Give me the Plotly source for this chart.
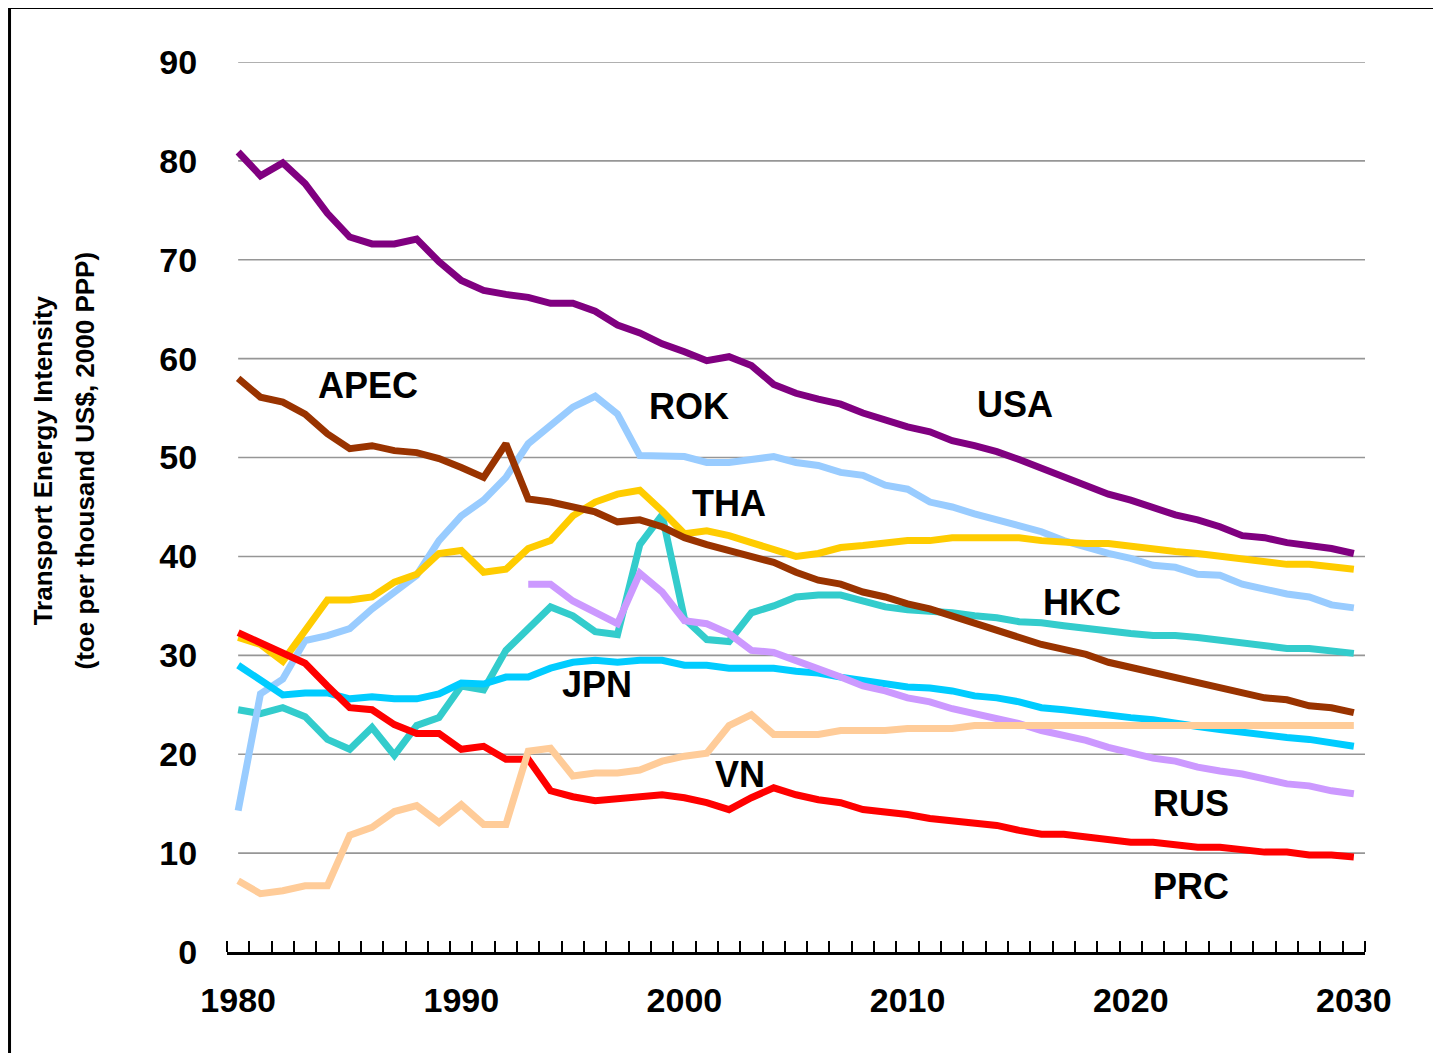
import plotly.graph_objects as go

years = list(range(1980, 2031))

usa = [80.9, 78.5, 79.8, 77.7, 74.7, 72.3, 71.6, 71.6, 72.1, 69.8,
       67.9, 66.9, 66.5, 66.2, 65.6, 65.6, 64.8, 63.4, 62.6, 61.5,
       60.7, 59.8, 60.2, 59.3, 57.4, 56.5, 55.9, 55.4, 54.5, 53.8,
       53.1, 52.6, 51.7, 51.2, 50.6, 49.8, 48.9, 48.0, 47.1, 46.3,
       45.7, 44.9, 44.2, 43.7, 43.0, 42.1, 41.9, 41.4, 41.1, 40.8, 40.3]

apec = [58.0, 56.1, 55.6, 54.4, 52.4, 50.9, 51.2, 50.7, 50.5, 49.9,
        49.0, 48.0, 51.4, 45.8, 45.5, 45.0, 44.5, 43.5, 43.7, 43.0,
        41.9, 41.2, 40.6, 40.0, 39.4, 38.4, 37.6, 37.2, 36.4, 35.9,
        35.2, 34.7, 34.0, 33.2, 32.6, 31.8, 31.1, 30.6, 30.1, 29.3,
        28.8, 28.3, 27.8, 27.3, 26.8, 26.3, 25.7, 25.5, 24.9, 24.7, 24.2]

rok = [14.3, 26.1, 27.6, 31.5, 32.0, 32.7, 34.7, 36.5, 38.1, 41.6,
       44.1, 45.7, 48.0, 51.4, 53.3, 55.1, 56.2, 54.4, 50.2, 50.1,
       50.1, 49.5, 49.5, 49.8, 50.1, 49.5, 49.2, 48.5, 48.2, 47.2,
       46.8, 45.5, 45.0, 44.3, 43.7, 43.0, 42.5, 41.6, 40.9, 40.3,
       39.8, 39.1, 38.9, 38.2, 38.1, 37.2, 36.7, 36.2, 35.9, 35.1, 34.8]

tha = [31.8, 31.1, 29.4, 32.5, 35.6, 35.6, 35.9, 37.4, 38.2, 40.3,
       40.6, 38.4, 38.7, 40.8, 41.6, 44.1, 45.5, 46.3, 46.7, 44.6,
       42.3, 42.6, 42.1, 41.4, 40.7, 40.0, 40.3, 40.9, 41.1, 41.4,
       41.6, 41.6, 41.9, 41.9, 41.9, 41.9, 41.6, 41.4, 41.3, 41.3,
       41.0, 40.7, 40.5, 40.3, 40.0, 39.7, 39.4, 39.2, 39.2, 38.9, 38.7]

hkc = [24.5, 24.1, 24.7, 23.8, 21.5, 20.5, 22.7, 19.9, 22.9, 23.7,
       26.9, 26.5, 30.5, 32.6, 34.9, 34.0, 32.4, 32.1, 41.2, 44.2,
       33.7, 31.6, 31.4, 34.3, 35.0, 35.9, 36.1, 36.1, 35.5, 34.9,
       34.6, 34.5, 34.3, 34.0, 33.8, 33.4, 33.3, 33.0, 32.7, 32.4,
       32.2, 32.0, 32.0, 31.8, 31.5, 31.2, 31.0, 30.7, 30.7, 30.5, 30.2]

jpn = [29.0, 27.4, 26.0, 26.2, 26.2, 25.6, 25.8, 25.6, 25.6, 26.1,
       27.2, 27.1, 27.8, 27.8, 28.7, 29.3, 29.5, 29.3, 29.5, 29.5,
       29.0, 29.0, 28.7, 28.7, 28.7, 28.4, 28.2, 27.8, 27.5, 27.1,
       26.8, 26.7, 26.4, 25.9, 25.7, 25.3, 24.7, 24.5, 24.2, 23.9,
       23.7, 23.5, 23.1, 22.8, 22.5, 22.2, 22.0, 21.7, 21.5, 21.2, 20.8]

prc = [32.3, 31.3, 30.2, 29.2, 26.9, 24.7, 24.5, 23.0, 22.1, 22.1,
       20.5, 20.8, 19.5, 19.5, 16.3, 15.7, 15.3, 15.5, 15.8, 15.9,
       15.6, 15.1, 14.4, 15.6, 16.6, 15.9, 15.4, 15.1, 14.4, 14.2,
       13.9, 13.5, 13.3, 13.0, 12.8, 12.3, 11.9, 11.9, 11.6, 11.4,
       11.1, 11.1, 10.8, 10.6, 10.6, 10.3, 10.1, 10.1, 9.8, 9.8, 9.6]

vn = [7.2, 5.9, 6.2, 6.7, 6.7, 11.8, 12.6, 14.2, 14.8, 13.1,
      14.9, 12.9, 12.9, 20.3, 20.6, 17.8, 18.1, 18.1, 18.4, 19.3,
      19.8, 20.1, 22.9, 24.0, 22.0, 22.0, 22.0, 22.4, 22.4, 22.4,
      22.6, 22.6, 22.6, 22.9, 22.9, 22.9, 22.9, 22.9, 22.9, 22.9,
      22.9, 22.9, 22.9, 22.9, 22.9, 22.9, 22.9, 22.9, 22.9, 22.9, 22.9]

rus = [None] * 13 + [
    37.2, 37.2, 35.5, 34.4, 33.2, 38.3, 36.4,
    33.5, 33.2, 32.2, 30.5, 30.3, 29.5, 28.6, 27.8, 26.9, 26.4,
    25.7, 25.3, 24.6, 24.1, 23.6, 23.1, 22.4, 21.9, 21.4, 20.7,
    20.1, 19.6, 19.3, 18.7, 18.3, 18.0, 17.5, 17.0, 16.8, 16.3, 16.0]

# drawing order: bottom -> top
series = [
    ("HKC", hkc, "#33CCCC"),
    ("ROK", rok, "#99CCFF"),
    ("JPN", jpn, "#00CCFF"),
    ("THA", tha, "#FFCC00"),
    ("PRC", prc, "#FF0000"),
    ("RUS", rus, "#CC99FF"),
    ("VN", vn, "#FFCC99"),
    ("APEC", apec, "#993300"),
    ("USA", usa, "#800080"),
]

label_names = ["APEC", "ROK", "USA", "THA", "HKC", "JPN", "VN", "RUS", "PRC"]
label_x = [1985.8, 2000.2, 2014.8, 2002.0, 2017.8, 1996.1, 2002.5, 2022.7, 2022.7]
label_y = [57.3, 55.2, 55.4, 45.4, 35.3, 27.1, 18.0, 15.0, 6.6]

y_ticks = [0, 10, 20, 30, 40, 50, 60, 70, 80, 90]
x_label_ticks = [1980, 1990, 2000, 2010, 2020, 2030]

FONT = "Liberation Sans, Arial, sans-serif"

fig = go.Figure()
for name, vals, color in series:
    fig.add_trace(go.Scatter(
        x=years, y=vals, mode="lines", name=name,
        line=dict(color=color, width=7),
        connectgaps=False, showlegend=False,
    ))

# horizontal gridlines (start at first category like the original)
for v in y_ticks[1:]:
    fig.add_shape(type="line", xref="x", yref="y",
                  x0=years[0], x1=years[-1] + 0.5, y0=v, y1=v,
                  line=dict(color="#969696", width=1.6), layer="below")

for n, xx, yy in zip(label_names, label_x, label_y):
    fig.add_annotation(x=xx, y=yy, xref="x", yref="y", text="<b>%s</b>" % n,
                       showarrow=False, font=dict(family=FONT, size=36, color="black"),
                       xanchor="center", yanchor="middle")

# y-axis title (two lines)
fig.add_annotation(x=-0.162, y=0.552, xref="paper", yref="paper",
                   text="<b>Transport Energy Intensity</b>", textangle=-90,
                   showarrow=False, font=dict(family=FONT, size=26, color="black"),
                   xanchor="center", yanchor="middle")
fig.add_annotation(x=-0.125, y=0.552, xref="paper", yref="paper",
                   text="<b>(toe per thousand US$, 2000 PPP)</b>", textangle=-90,
                   showarrow=False, font=dict(family=FONT, size=26, color="black"),
                   xanchor="center", yanchor="middle")

# outer frame (left and top edges visible)
fig.add_shape(type="line", xref="paper", yref="paper",
              x0=-0.1911, x1=-0.1911, y0=-0.2, y1=1.0613,
              line=dict(color="black", width=3))
fig.add_shape(type="line", xref="paper", yref="paper",
              x0=-0.1911, x1=1.2, y0=1.0613, y1=1.0613,
              line=dict(color="black", width=3))

fig.update_layout(
    width=1433, height=1045,
    margin=dict(l=219, r=76, t=54, b=101),
    paper_bgcolor="white", plot_bgcolor="white",
    font=dict(family=FONT, color="black"),
    xaxis=dict(
        range=[1979.5, 2030.5], showgrid=False, zeroline=False,
        showline=True, linecolor="black", linewidth=2.5,
        tickmode="array", tickvals=x_label_ticks,
        ticktext=["<b>%d</b>" % t for t in x_label_ticks],
        ticks="outside", ticklen=16, tickcolor="rgba(0,0,0,0)",
        tickfont=dict(family=FONT, size=34, color="black"),
        minor=dict(ticks="inside", ticklen=11, tickwidth=2, tickcolor="black",
                   tick0=1979.5, dtick=1, showgrid=False),
    ),
    yaxis=dict(
        range=[0, 90], showgrid=False, zeroline=False, showline=False,
        tickmode="array", tickvals=y_ticks,
        ticktext=["<b>%d</b>" % t for t in y_ticks],
        ticks="outside", ticklen=22, tickcolor="rgba(0,0,0,0)",
        tickfont=dict(family=FONT, size=34, color="black"),
    ),
)

fig.write_html("out.html")
